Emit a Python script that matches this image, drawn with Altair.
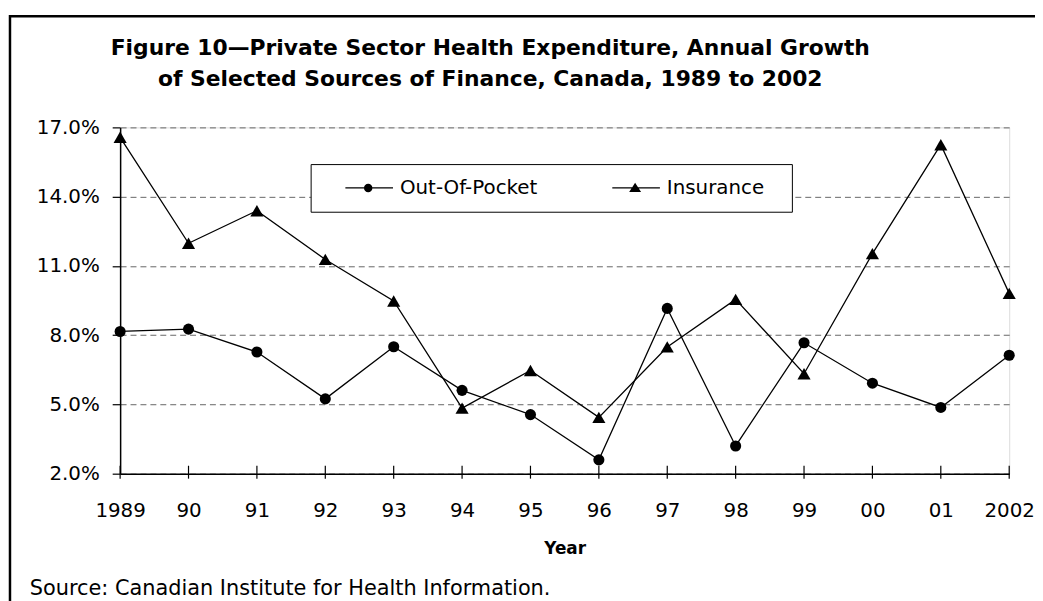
import altair as alt
import pandas as pd

YEAR_LABELS = ["1989", "90", "91", "92", "93", "94", "95", "96", "97", "98", "99", "00", "01", "2002"]
OUT_OF_POCKET = [8.16, 8.26, 7.27, 5.24, 7.50, 5.61, 4.56, 2.60, 9.16, 3.20, 7.67, 5.92, 4.87, 7.13]
INSURANCE = [16.57, 11.98, 13.39, 11.28, 9.48, 4.84, 6.47, 4.44, 7.49, 9.55, 6.33, 11.53, 16.25, 9.81]
SERIES = ["Out-Of-Pocket", "Insurance"]
Y_TICKS = [2, 5, 8, 11, 14, 17]
TITLE_LINES = ["Figure 10\u2014Private Sector Health Expenditure, Annual Growth",
               "of Selected Sources of Finance, Canada, 1989 to 2002"]
X_TITLE = "Year"
SOURCE = "Source: Canadian Institute for Health Information."

rows = []
for lab, v in zip(YEAR_LABELS, OUT_OF_POCKET):
    rows.append({"year": lab, "series": SERIES[0], "value": v})
for lab, v in zip(YEAR_LABELS, INSURANCE):
    rows.append({"year": lab, "series": SERIES[1], "value": v})
df = pd.DataFrame(rows)
ticks_df = pd.DataFrame({"year": YEAR_LABELS})
one_df = pd.DataFrame({"k": [0]})

W, H = 896, 349
FONT = "DejaVu Sans"

x_enc = alt.X(
    "year:O", sort=YEAR_LABELS,
    scale=alt.Scale(type="point", padding=0),
    axis=alt.Axis(title=X_TITLE, titleFont=FONT, titleFontSize=17, titleFontWeight="bold",
                  titleColor="black", titlePadding=20,
                  labelFont=FONT, labelFontSize=20, labelColor="black", labelAngle=0,
                  labelPadding=27, ticks=False, tickSize=0,
                  domainColor="black", domainWidth=1.5, grid=False),
)
y_enc = alt.Y(
    "value:Q",
    scale=alt.Scale(domain=[2, 17], nice=False, zero=False),
    axis=alt.Axis(values=Y_TICKS, labelExpr="format(datum.value, '.1f') + '%'",
                  title=None, labelFont=FONT, labelFontSize=20, labelColor="black",
                  labelPadding=13, tickSize=8, tickColor="black", tickWidth=1.2,
                  domainColor="black", domainWidth=1.5,
                  grid=True, gridColor="#666666", gridDash=[6, 4], gridWidth=1),
)

lines = alt.Chart(df).mark_line(color="black", strokeWidth=1.3).encode(
    x=x_enc, y=y_enc, detail="series:N"
)

# legend glyphs: a short line with the marker on it (units of 5 px)
CIRCLE_PATH = ("M-1,0M2.2,-0.13H11.8V0.13H2.2Z"
               "M7.65,0A0.85,0.85,0,1,1,5.95,0A0.85,0.85,0,1,1,7.65,0Z")
TRI_PATH = ("M-1,0M35.4,0M2.2,-0.13H11.8V0.13H2.2Z"
            "M6.8,-1.05L8.0,0.8L5.6,0.8Z")

legend = alt.Legend(
    orient="none", legendX=192, legendY=37, direction="horizontal", title=None,
    fillColor="white", strokeColor="black", padding=14,
    labelFont=FONT, labelFontSize=20, labelColor="black", labelOffset=56,
    symbolSize=100, symbolFillColor="black", symbolStrokeColor="black",
    symbolStrokeWidth=0.5, symbolOpacity=1, columnPadding=54,
)

points = alt.Chart(df).mark_point(filled=True, color="black", opacity=1).encode(
    x=x_enc, y=y_enc,
    shape=alt.Shape("series:N", scale=alt.Scale(domain=SERIES, range=["circle", "triangle-up"]),
                    legend=None),
    size=alt.Size("series:N", scale=alt.Scale(domain=SERIES, range=[125, 175]), legend=None),
)

legend_layer = alt.Chart(df).mark_point(filled=True, color="black", size=100, opacity=0).encode(
    x=x_enc, y=y_enc,
    shape=alt.Shape("series:N", scale=alt.Scale(domain=SERIES, range=[CIRCLE_PATH, TRI_PATH]),
                    legend=legend),
)

xticks = alt.Chart(ticks_df).mark_rule(color="black", strokeWidth=1.2).encode(
    x=x_enc, y=alt.value(H - 8), y2=alt.value(H + 5)
)

frame = alt.Chart(one_df).mark_rect(fillOpacity=0, stroke="black", strokeWidth=2.5).encode(
    x=alt.value(-111), x2=alt.value(W + 200), y=alt.value(-112), y2=alt.value(H + 300)
)

title = alt.Chart(one_df).mark_text(text=TITLE_LINES, align="center", baseline="alphabetic",
                                     font=FONT, fontSize=22, fontWeight="bold", color="black",
                                     lineHeight=31).encode(
    x=alt.value(373), y=alt.value(-73)
)

source = alt.Chart(one_df).mark_text(text=SOURCE, align="left", baseline="middle",
                                      font=FONT, fontSize=21, color="black").encode(
    x=alt.value(-91), y=alt.value(465)
)

chart = alt.layer(frame, lines, xticks, points, legend_layer, title, source).resolve_scale(
    shape="independent"
).properties(
    width=W, height=H,
    autosize=alt.AutoSizeParams(type="none"),
    padding={"left": 113, "top": 118, "right": 26, "bottom": 126},
).configure_view(stroke=None).configure(background="white")

chart.save("out.html", embed_options={"renderer": "svg", "actions": False})
